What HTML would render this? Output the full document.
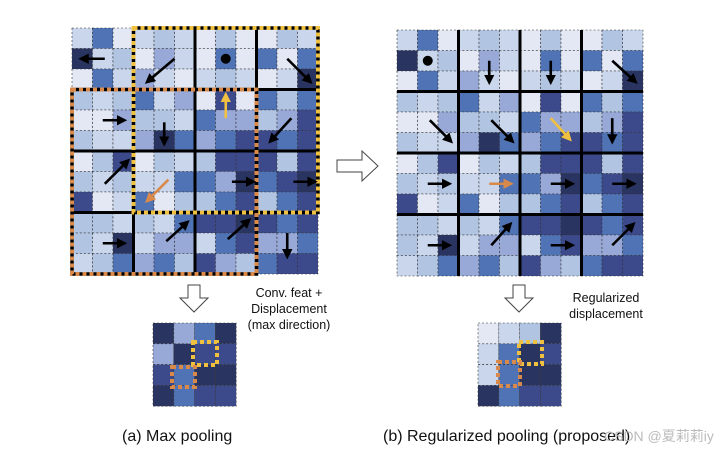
<!DOCTYPE html>
<html><head><meta charset="utf-8"><style>
html,body{margin:0;padding:0;background:#fff;width:721px;height:453px;overflow:hidden}
svg{display:block}
text{font-family:"Liberation Sans",Arial,sans-serif;fill:#111}
</style></head><body>
<svg id="s" width="721" height="453" viewBox="0 0 721 453" xmlns="http://www.w3.org/2000/svg">
<defs>
<marker id="ab" markerWidth="4" markerHeight="4" refX="2.5" refY="2" orient="auto" markerUnits="strokeWidth"><path d="M0,0 L4,2 L0,4 z" fill="#000"/></marker>
<marker id="ay" markerWidth="4" markerHeight="4" refX="2.5" refY="2" orient="auto" markerUnits="strokeWidth"><path d="M0,0 L4,2 L0,4 z" fill="#f0c040"/></marker>
<marker id="ao" markerWidth="4" markerHeight="4" refX="2.5" refY="2" orient="auto" markerUnits="strokeWidth"><path d="M0,0 L4,2 L0,4 z" fill="#d98a4a"/></marker>
</defs>
<g id="g"></g>
<!-- hollow arrows -->
<path d="M337,160 L362,160 L362,151 L378,166 L362,181 L362,172 L337,172 Z" fill="#fff" stroke="#444" stroke-width="1"/>
<path d="M188,285 L200,285 L200,298 L208,298 L194,312 L180,298 L188,298 Z" fill="#fff" stroke="#444" stroke-width="1"/>
<path d="M513,285 L525,285 L525,298 L533,298 L519,312 L505,298 L513,298 Z" fill="#fff" stroke="#444" stroke-width="1"/>
<text x="289" y="297" font-size="12.5" text-anchor="middle">Conv. feat +</text>
<text x="289" y="313" font-size="12.5" text-anchor="middle">Displacement</text>
<text x="289" y="329" font-size="12.5" text-anchor="middle">(max direction)</text>
<text x="606" y="302" font-size="12.5" text-anchor="middle">Regularized</text>
<text x="606" y="318" font-size="12.5" text-anchor="middle">displacement</text>
<text x="122" y="441" font-size="16">(a) Max pooling</text>
<text x="383" y="441" font-size="16">(b) Regularized pooling (proposed)</text>
<text x="604" y="441" font-size="14" style="fill:#bbb;font-family:'Liberation Sans','Noto Sans CJK SC',sans-serif">CSDN @夏莉莉iy</text>
</svg>
<script>
var P=["#e3e8f4","#c9d6ec","#b1c4e2","#99a9d7","#4f73b5","#3c4a8c","#2a3461"];
var D=[
"140121020021","612031040404","041310121016","212413050424","003221433235","211364345545",
"025021255525","212114436456","501402245245","221214556545","216133145334","124342532455"];
var g=document.getElementById('g'),h='';
function grid(x0,y0,c){for(var r=0;r<12;r++)for(var k=0;k<12;k++){h+='<rect x="'+(x0+k*c)+'" y="'+(y0+r*c)+'" width="'+c+'" height="'+c+'" fill="'+P[+D[r][k]]+'" stroke="#333" stroke-width="0.6" stroke-dasharray="2,2"/>';}}
function small(x0,y0,c,a){for(var r=0;r<4;r++)for(var k=0;k<4;k++){h+='<rect x="'+(x0+k*c)+'" y="'+(y0+r*c)+'" width="'+c+'" height="'+c+'" fill="'+P[+a[r][k]]+'" stroke="#333" stroke-width="0.6" stroke-dasharray="2,2"/>';}}
function L(x1,y1,x2,y2){h+='<line x1="'+x1+'" y1="'+y1+'" x2="'+x2+'" y2="'+y2+'" stroke="#000" stroke-width="3"/>';}
function dr(x,y,w,hh,col){h+='<rect x="'+x+'" y="'+y+'" width="'+w+'" height="'+hh+'" fill="none" stroke="#000" stroke-width="3.5"/><rect x="'+x+'" y="'+y+'" width="'+w+'" height="'+hh+'" fill="none" stroke="'+col+'" stroke-width="4" stroke-dasharray="4,3"/>';}
function ar(x0,y0,c,a,b,e,f,m){var col=m=='ay'?'#f0c040':m=='ao'?'#d98a4a':'#000';h+='<line x1="'+(x0+a*c)+'" y1="'+(y0+b*c)+'" x2="'+(x0+e*c)+'" y2="'+(y0+f*c)+'" stroke="'+col+'" stroke-width="2.6" marker-end="url(#'+(m||'ab')+')"/>';}
var c=20.5,lx=72,ly=28,rx=397,ry=30;
grid(lx,ly,c);grid(rx,ry,c);
// right grid lines
for(var i=1;i<4;i++){L(rx+i*3*c,ry,rx+i*3*c,ry+12*c);L(rx,ry+i*3*c,rx+12*c,ry+i*3*c);}
for(var i=1;i<4;i++){L(lx+i*3*c,ly,lx+i*3*c,ly+12*c);L(lx,ly+i*3*c,lx+12*c,ly+i*3*c);}
dr(lx+3*c,ly,9*c,9*c,'#f0c040');
dr(lx,ly+3*c,9*c,9*c,'#d98a4a');
// left arrows
var A=[[1.6,1.5,0.5,1.5],[5,1.5,3.7,2.6],[10.5,1.5,11.6,2.6],[7.5,4.4,7.5,3.3,'ay'],[1.5,4.5,2.5,4.5],[4.5,4.6,4.5,5.6],[10.7,4.4,9.7,5.5],[1.6,7.6,2.7,6.5],[4.7,7.4,3.7,8.4,'ao'],[7.8,7.5,8.8,7.5],[10.8,7.5,11.8,7.5],[1.5,10.5,2.5,10.5],[4.6,10.4,5.6,9.5],[7.6,10.3,8.6,9.4],[10.5,10,10.5,11.1]];
A.forEach(function(q){ar(lx,ly,c,q[0],q[1],q[2],q[3],q[4]);});
h+='<circle cx="'+(lx+7.5*c)+'" cy="'+(ly+1.5*c)+'" r="5" fill="#000"/>';
var B=[[4.5,1.5,4.5,2.5],[7.5,1.5,7.5,2.5],[10.5,1.5,11.6,2.5],[1.6,4.4,2.6,5.4],[4.6,4.4,5.6,5.4],[7.5,4.3,8.4,5.3,'ay'],[10.5,4.3,10.5,5.4],[1.5,7.5,2.5,7.5],[4.5,7.5,5.5,7.5,'ao'],[7.5,7.5,8.5,7.5],[10.5,7.5,11.5,7.5],[1.5,10.5,2.5,10.5],[4.6,10.5,5.5,9.5],[7.5,10.5,8.5,10.5],[10.5,10.5,11.5,9.5]];
B.forEach(function(q){ar(rx,ry,c,q[0],q[1],q[2],q[3],q[4]);});
h+='<circle cx="'+(rx+1.5*c)+'" cy="'+(ry+1.5*c)+'" r="5" fill="#000"/>';
small(153,323,20.8,["6346","3655","5466","6455"]);
small(478,323,20.8,["0126","1465","1466","6455"]);
h+='<rect x="193" y="342" width="24" height="23" fill="none" stroke="#f0c040" stroke-width="4" stroke-dasharray="4,3"/>';
h+='<rect x="172" y="367" width="23" height="20" fill="none" stroke="#d98a4a" stroke-width="4" stroke-dasharray="4,3"/>';
h+='<rect x="519" y="342" width="23" height="22" fill="none" stroke="#f0c040" stroke-width="4" stroke-dasharray="4,3"/>';
h+='<rect x="498" y="362" width="22" height="24" fill="none" stroke="#d98a4a" stroke-width="4" stroke-dasharray="4,3"/>';
g.innerHTML=h;
</script>
</body></html>
